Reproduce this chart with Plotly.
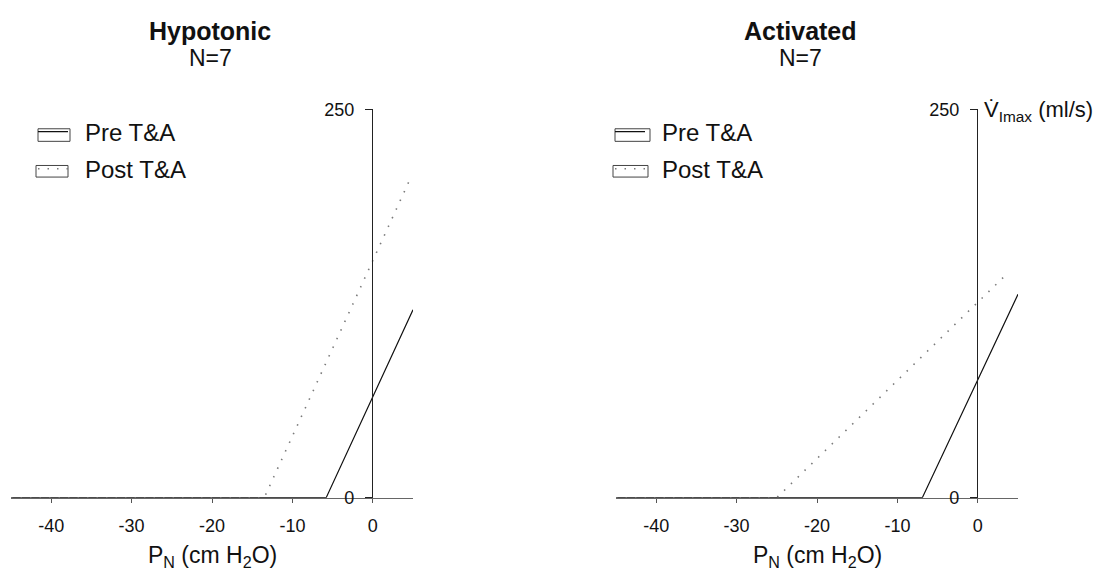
import plotly.graph_objects as go

# ---- data ----
ticks_x = [-40, -30, -20, -10, 0]
tick_text_x = ["-40", "-30", "-20", "-10", "0"]
ticks_y = [0, 250]

hypo_pre_x = [-45, -5.8, 5.0]
hypo_pre_y = [0, 0, 121]
hypo_post_x = [-45, -13.5, 4.8]
hypo_post_y = [0, 0, 207]

act_pre_x = [-45, -6.9, 5.0]
act_pre_y = [0, 0, 131]
act_post_x = [-45, -25.0, 3.6]
act_post_y = [0, 0, 144]

panel_titles = ["Hypotonic", "Activated"]
n_label = "N=7"
series_names = ["Pre T&A", "Post T&A"]

W, H = 1095, 583
FONT = "Liberation Sans, Arial, sans-serif"

def px(x):
    return x / W

def py(y):
    return 1 - y / H

fig = go.Figure()

pre_style = dict(color="#111111", width=1.2)
post_style = dict(color="#7a7a7a", width=1.6, dash="1.5px,8px")
PAD = "\u2002"

fig.add_trace(go.Scatter(x=hypo_pre_x, y=hypo_pre_y, mode="lines", line=pre_style,
                         name=PAD + series_names[0], xaxis="x", yaxis="y", legend="legend", legendgroup="a"))
fig.add_trace(go.Scatter(x=hypo_post_x, y=hypo_post_y, mode="lines", line=post_style,
                         name=PAD + series_names[1], xaxis="x", yaxis="y", legend="legend", legendgroup="b"))
fig.add_trace(go.Scatter(x=act_pre_x, y=act_pre_y, mode="lines", line=pre_style,
                         name=PAD + series_names[0], xaxis="x2", yaxis="y2", legend="legend2", legendgroup="c"))
fig.add_trace(go.Scatter(x=act_post_x, y=act_post_y, mode="lines", line=post_style,
                         name=PAD + series_names[1], xaxis="x2", yaxis="y2", legend="legend2", legendgroup="d"))

ydom = [py(505), py(103)]
xdom1 = [px(11), px(413)]
xdom2 = [px(616), px(1018)]

xcommon = dict(range=[-45, 5], tickvals=ticks_x, ticktext=tick_text_x, ticks="outside", ticklen=4,
               tickwidth=1, tickcolor="#555", showline=True, linecolor="#666", linewidth=1,
               showgrid=False, zeroline=False, ticklabelstandoff=8,
               tickfont=dict(size=18, color="#111", family=FONT))
ycommon = dict(range=[0, 250], tickvals=ticks_y, ticks="outside", ticklen=7, tickwidth=1,
               tickcolor="#222", showline=True, linecolor="#222", linewidth=1.3,
               showgrid=False, zeroline=False, ticklabelstandoff=7,
               tickfont=dict(size=18, color="#111", family=FONT), anchor="free")

legcommon = dict(font=dict(size=24, color="#111", family=FONT), bgcolor="rgba(0,0,0,0)",
                 tracegroupgap=3, itemwidth=30, xanchor="left", yanchor="top")

fig.update_layout(
    width=W, height=H, autosize=False,
    margin=dict(l=0, r=0, t=0, b=0),
    paper_bgcolor="white", plot_bgcolor="white",
    font=dict(family=FONT, color="#111"),
    xaxis=dict(domain=xdom1, anchor="y", **xcommon),
    yaxis=dict(domain=ydom, position=px(372), **ycommon),
    xaxis2=dict(domain=xdom2, anchor="y2", **xcommon),
    yaxis2=dict(domain=ydom, position=px(977), **ycommon),
    legend=dict(x=px(33), y=py(103), **legcommon),
    legend2=dict(x=px(610), y=py(103), **legcommon),
)

# boxes around legend symbols
shapes = []
for x0, x1, y0, y1 in [(38, 70, 123, 136), (36, 68, 161, 173),
                       (615, 650, 123, 136), (613, 648, 161, 173)]:
    shapes.append(dict(type="rect", xref="paper", yref="paper",
                       x0=px(x0), x1=px(x1), y0=py(y1), y1=py(y0),
                       line=dict(color="#444", width=1), fillcolor="rgba(0,0,0,0)"))
fig.update_layout(shapes=shapes)

ann = []
for cx, t in [(210, panel_titles[0]), (800, panel_titles[1])]:
    ann.append(dict(x=px(cx), y=py(22), xref="paper", yref="paper", text=f"<b>{t}</b>",
                    xanchor="center", yanchor="middle",
                    showarrow=False, font=dict(size=25, family=FONT, color="#111")))
    ann.append(dict(x=px(cx), y=py(50), xref="paper", yref="paper", text=n_label,
                    xanchor="center", yanchor="middle",
                    showarrow=False, font=dict(size=23, family=FONT, color="#111")))
for cx in [212, 817]:
    ann.append(dict(x=px(cx), y=py(566), xref="paper", yref="paper",
                    xanchor="center", yanchor="middle",
                    text="P<sub>N</sub> (cm H<sub>2</sub>O)",
                    showarrow=False, font=dict(size=23, family=FONT, color="#111")))
ann.append(dict(x=px(982), y=py(105), xref="paper", yref="paper", xanchor="left", yanchor="middle",
                text="V\u0307<sub>Imax</sub> (ml/s)",
                showarrow=False, font=dict(size=22, family=FONT, color="#111")))
fig.update_layout(annotations=ann)

fig.write_html("out.html")
